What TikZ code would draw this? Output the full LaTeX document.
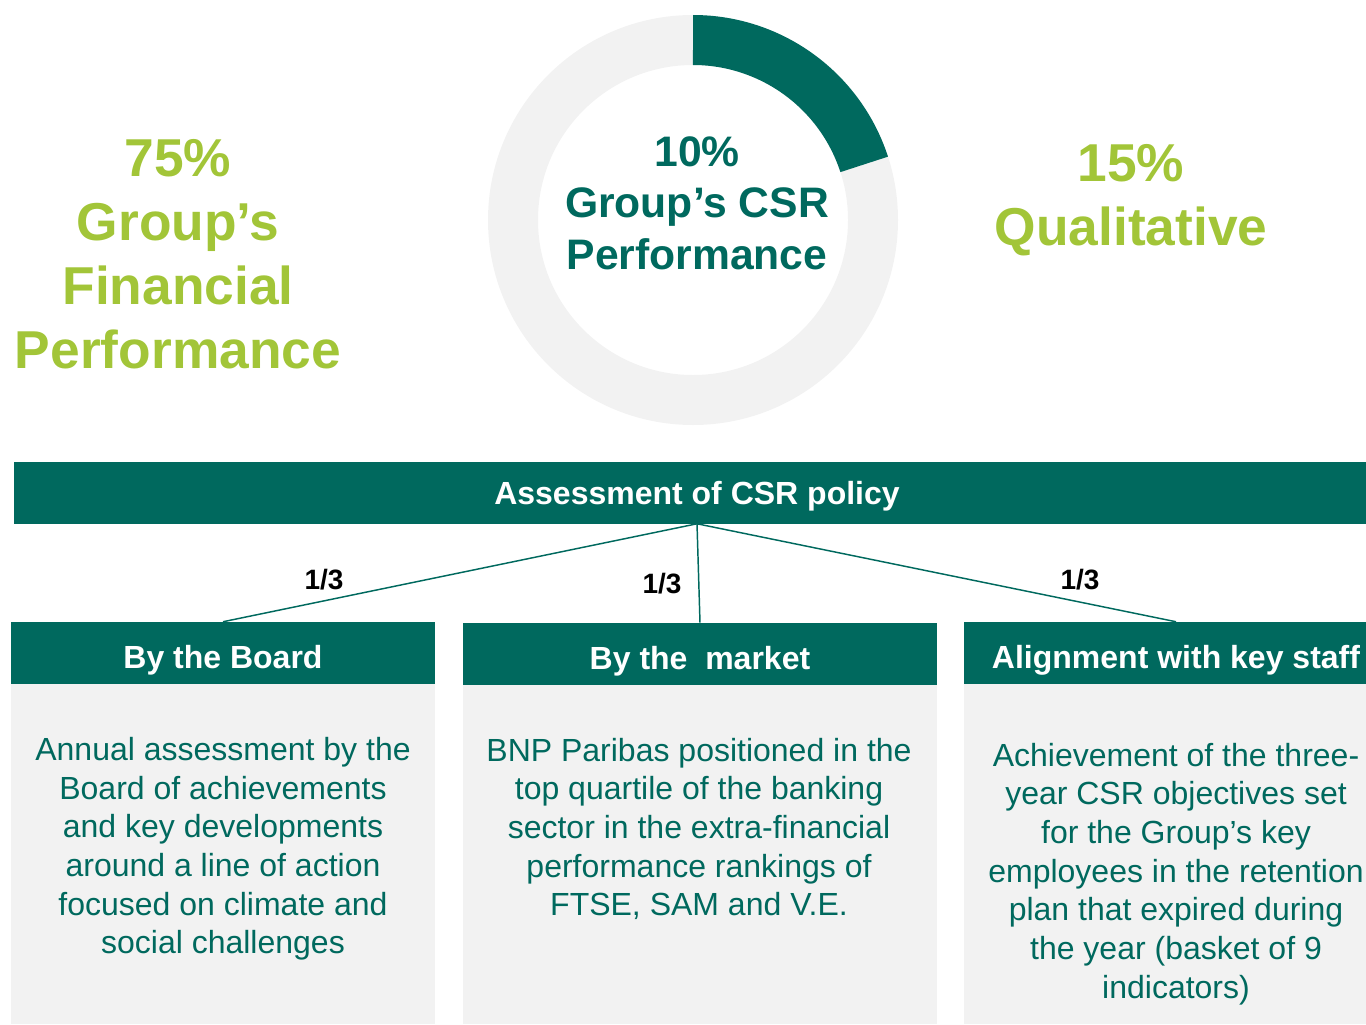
\documentclass[tikz,border=0pt]{standalone}
\usepackage{fontspec}
\setmainfont{Liberation Sans}
\definecolor{bnpgreen}{RGB}{0,105,94}
\definecolor{bnplime}{RGB}{162,197,56}
\definecolor{bnpgrey}{RGB}{242,242,242}

\begin{document}
\begin{tikzpicture}[x=.75pt,y=-.75pt,
  head/.style={fill=bnpgreen,text=white,font=\fontsize{24}{29}\selectfont\bfseries,minimum height=46.5pt,inner sep=0pt,text height=23pt,text depth=0pt},
  body/.style={text=bnpgreen,align=center,font=\fontsize{24}{29}\selectfont},
  big/.style={text=bnplime,align=center,font=\fontsize{40}{48}\selectfont\bfseries},
  third/.style={font=\fontsize{21}{25}\selectfont\bfseries}]
  \clip (0,0) rectangle (1366,1024);

  % ring
  \fill[bnpgrey,even odd rule] (693,220) circle (205) (693,220) circle (155);
  \fill[bnpgreen] (693,15) arc[start angle=-90,end angle=-18,radius=205]
    -- (840.4,172.1) arc[start angle=-18,end angle=-90,radius=155] -- cycle;

  \node[big] (fin) at (178,254) {75\%\\Group’s\\Financial\\Performance};
  \node[text=bnpgreen,align=center,font=\fontsize{32}{38.6}\selectfont\bfseries] (csr) at (697,203) {10\%\\Group’s CSR\\Performance};
  \node[big] (qual) at (1131,200) {15\%\\Qualitative};

  % boxes
  \fill[bnpgrey] (11,684) rectangle (435,1024);
  \fill[bnpgrey] (463,685) rectangle (937,1024);
  \fill[bnpgrey] (964,684) rectangle (1366,1024);

  \node[head,minimum width=1024.5pt,text height=18.5pt] (banner) at (697,492.5) {Assessment of CSR policy};
  \node[head,minimum width=318pt] (board) at (223,653) {By the Board};
  \node[head,minimum width=355.5pt] (market) at (700,654) {By the \ market};
  \node[head,minimum width=318pt] (staff) at (1176,653) {Alignment with key staff};

  \draw[bnpgreen,line width=1.1pt] (banner.south) -- (board.north);
  \draw[bnpgreen,line width=1.1pt] (banner.south) -- (market.north);
  \draw[bnpgreen,line width=1.1pt] (banner.south) -- (staff.north);

  \node[third] (w1) at (324,580) {1/3};
  \node[third] (w2) at (662,584) {1/3};
  \node[third] (w3) at (1080,580) {1/3};

  \node[body] (boardtxt) at (223,849) {Annual assessment by the\\Board of achievements\\and key developments\\around a line of action\\focused on climate and\\social challenges};
  \node[body] (markettxt) at (699,829) {BNP Paribas positioned in the\\top quartile of the banking\\sector in the extra-financial\\performance rankings of\\FTSE, SAM and V.E.};
  \node[body] (stafftxt) at (1176,874) {Achievement of the three-\\year CSR objectives set\\for the Group’s key\\employees in the retention\\plan that expired during\\the year (basket of 9\\indicators)};
\end{tikzpicture}
\end{document}
